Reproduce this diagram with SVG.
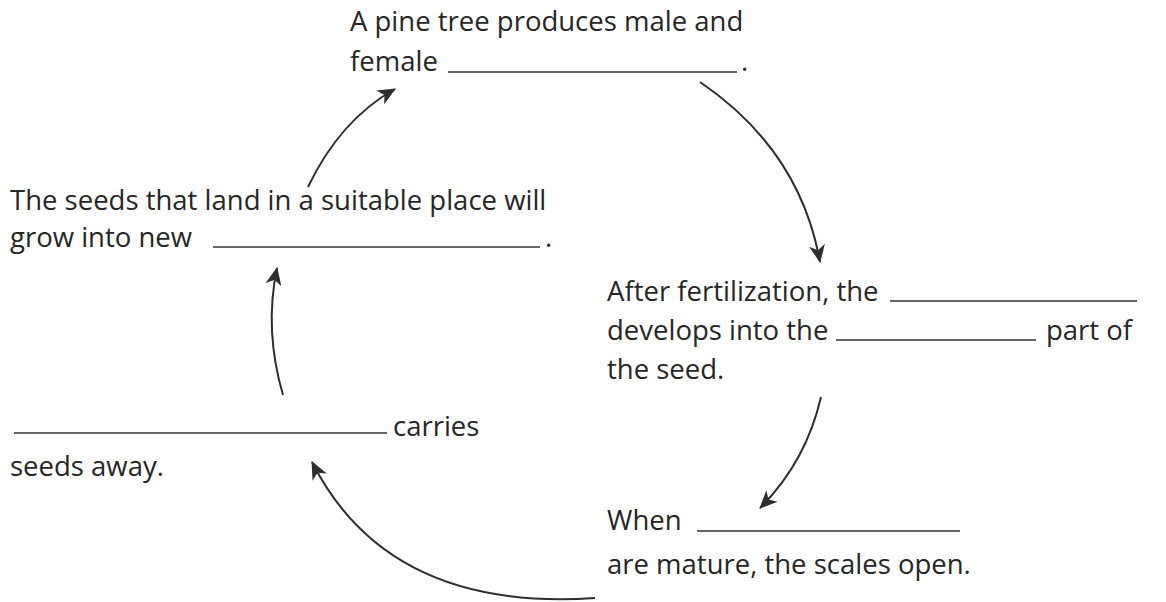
<svg xmlns="http://www.w3.org/2000/svg" width="1166" height="602" viewBox="0 0 1166 602">
<defs>
<style>
text{font-family:"Open Sans","Noto Sans","Liberation Sans",sans-serif;font-size:27.5px;fill:#262626}
.blank{stroke:#333;stroke-width:1.6}
.conn{fill:none;stroke:#2e2e2e;stroke-width:2}
</style>
<marker id="ah" markerUnits="userSpaceOnUse" markerWidth="18" markerHeight="16" viewBox="0 0 18 16" refX="17" refY="8" orient="auto">
<path d="M0,0 L18,8 L0,16 L5,8 z" fill="#2e2e2e"/>
</marker>
</defs>
<rect width="1166" height="602" fill="#fff"/>
<g id="node-cones">
<text x="350" y="31">A pine tree produces male and</text>
<text x="350" y="71">female</text>
<line class="blank" x1="448" y1="72" x2="737" y2="72"/>
<text x="741" y="71">.</text>
</g>
<g id="node-fertilization">
<text x="607" y="301">After fertilization, the</text>
<line class="blank" x1="890" y1="301" x2="1137" y2="301"/>
<text x="607" y="340">develops into the</text>
<line class="blank" x1="836" y1="340" x2="1036" y2="340"/>
<text x="1046" y="340">part of</text>
<text x="607" y="379">the seed.</text>
</g>
<g id="node-mature">
<text x="607" y="530">When</text>
<line class="blank" x1="697" y1="531" x2="960" y2="531"/>
<text x="607" y="574">are mature, the scales open.</text>
</g>
<g id="node-carries">
<line class="blank" x1="14" y1="433" x2="387" y2="433"/>
<text x="393" y="436">carries</text>
<text x="10" y="476">seeds away.</text>
</g>
<g id="node-grow">
<text x="10" y="210">The seeds that land in a suitable place will</text>
<text x="10" y="247">grow into new</text>
<line class="blank" x1="213" y1="247" x2="540" y2="247"/>
<text x="545" y="247">.</text>
</g>
<g id="connectors">
<path class="conn" marker-end="url(#ah)" d="M700,82 Q800,150 820,262"/>
<path class="conn" marker-end="url(#ah)" d="M821,397 Q806,462 760,508"/>
<path class="conn" marker-end="url(#ah)" d="M595,598 Q388,612 312,462"/>
<path class="conn" marker-end="url(#ah)" d="M283,395 Q264,330 277,268"/>
<path class="conn" marker-end="url(#ah)" d="M308,187 Q340,120 395,89"/>
</g>
</svg>
